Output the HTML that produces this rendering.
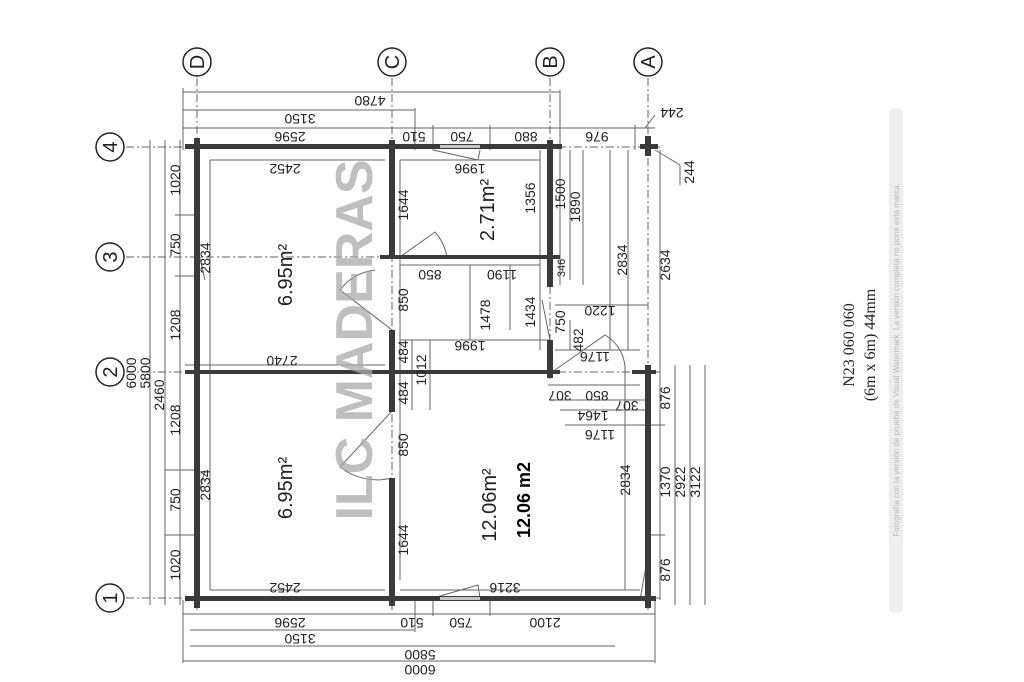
<!DOCTYPE html>
<html><head><meta charset="utf-8"><style>
body{margin:0;background:#fff;}
svg{display:block}
text{font-family:"Liberation Sans",sans-serif;fill:#222}
.d{font-size:14px}
</style></head><body>
<svg width="1024" height="682" viewBox="0 0 1024 682" xmlns="http://www.w3.org/2000/svg">
<g stroke="#666" stroke-width="1" fill="none">
<line x1="197" y1="78" x2="197" y2="610" stroke-dasharray="8 3 2 3"/>
<line x1="392" y1="78" x2="392" y2="610" stroke-dasharray="8 3 2 3"/>
<line x1="550" y1="78" x2="550" y2="380" stroke-dasharray="8 3 2 3"/>
<line x1="648" y1="78" x2="648" y2="610" stroke-dasharray="8 3 2 3"/>
<line x1="126" y1="147" x2="660" y2="147" stroke-dasharray="8 3 2 3"/>
<line x1="126" y1="257" x2="560" y2="257" stroke-dasharray="8 3 2 3"/>
<line x1="126" y1="372" x2="660" y2="372" stroke-dasharray="8 3 2 3"/>
<line x1="126" y1="598" x2="660" y2="598" stroke-dasharray="8 3 2 3"/>
<line x1="183" y1="92" x2="560" y2="92"/>
<line x1="183" y1="110" x2="415" y2="110"/>
<line x1="183" y1="128" x2="655" y2="128"/>
<line x1="183" y1="88" x2="183" y2="150"/>
<line x1="415" y1="108" x2="415" y2="150"/>
<line x1="433" y1="125" x2="433" y2="150"/>
<line x1="490" y1="125" x2="490" y2="150"/>
<line x1="560" y1="90" x2="560" y2="150"/>
<line x1="635" y1="125" x2="635" y2="150"/>
<line x1="183" y1="614" x2="655" y2="614"/>
<line x1="190" y1="630" x2="415" y2="630"/>
<line x1="190" y1="646" x2="615" y2="646"/>
<line x1="183" y1="661" x2="655" y2="661"/>
<line x1="183" y1="600" x2="183" y2="663"/>
<line x1="655" y1="600" x2="655" y2="663"/>
<line x1="415" y1="600" x2="415" y2="632"/>
<line x1="433" y1="600" x2="433" y2="616"/>
<line x1="490" y1="600" x2="490" y2="616"/>
<line x1="150" y1="140" x2="150" y2="605"/>
<line x1="165" y1="140" x2="165" y2="605"/>
<line x1="180" y1="140" x2="180" y2="605"/>
<line x1="175" y1="215" x2="197" y2="215"/>
<line x1="175" y1="276" x2="197" y2="276"/>
<line x1="165" y1="470" x2="197" y2="470"/>
<line x1="165" y1="535" x2="197" y2="535"/>
<line x1="210" y1="160" x2="385" y2="160"/>
<line x1="210" y1="160" x2="210" y2="590"/>
<line x1="210" y1="590" x2="385" y2="590"/>
<line x1="185" y1="365" x2="385" y2="365"/>
<line x1="400" y1="160" x2="540" y2="160"/>
<line x1="400" y1="265" x2="540" y2="265"/>
<line x1="400" y1="160" x2="400" y2="580"/>
<line x1="400" y1="590" x2="640" y2="590"/>
<line x1="412" y1="340" x2="412" y2="410"/>
<line x1="430" y1="340" x2="430" y2="410"/>
<line x1="400" y1="340" x2="550" y2="340"/>
<line x1="470" y1="265" x2="470" y2="340"/>
<line x1="510" y1="265" x2="510" y2="330"/>
<line x1="540" y1="150" x2="540" y2="350"/>
<line x1="560" y1="150" x2="560" y2="285"/>
<line x1="570" y1="150" x2="570" y2="280"/>
<line x1="583" y1="150" x2="583" y2="285"/>
<line x1="610" y1="150" x2="610" y2="350"/>
<line x1="628" y1="150" x2="628" y2="350"/>
<line x1="555" y1="305" x2="648" y2="305"/>
<line x1="555" y1="350" x2="640" y2="350"/>
<line x1="570" y1="320" x2="570" y2="350"/>
<line x1="548" y1="385" x2="640" y2="385"/>
<line x1="552" y1="400" x2="648" y2="400"/>
<line x1="560" y1="410" x2="648" y2="410"/>
<line x1="565" y1="425" x2="665" y2="425"/>
<line x1="625" y1="370" x2="625" y2="590"/>
<line x1="660" y1="365" x2="660" y2="600"/>
<line x1="675" y1="365" x2="675" y2="605"/>
<line x1="690" y1="365" x2="690" y2="605"/>
<line x1="705" y1="365" x2="705" y2="605"/>
<line x1="648" y1="425" x2="665" y2="425"/>
<line x1="648" y1="535" x2="665" y2="535"/>
<line x1="660" y1="150" x2="660" y2="372"/>
<line x1="645" y1="128" x2="655" y2="115"/>
<line x1="655" y1="150" x2="680" y2="165"/>
<line x1="680" y1="165" x2="680" y2="185"/>
<path d="M400 257 L435 232 A50 50 0 0 1 447 257"/>
<path d="M392 330 L340 290 A50 50 0 0 1 375 270"/>
<path d="M392 411 L340 467 A60 60 0 0 0 392 478"/>
<path d="M550 340 L542 300"/>
<path d="M555 370 L605 335 A40 40 0 0 1 625 372"/>
<path d="M433 598 L478 585 L480 598"/>
<path d="M433 150 L478 160 L480 150"/>
<path d="M648 555 L640 600"/>
<path d="M197 245 L205 280"/>
<path d="M197 500 L205 470"/>
</g>
<g fill="#3a3a3a">
<rect x="185" y="144" width="377" height="5"/>
<rect x="194" y="138" width="6" height="470"/>
<rect x="389" y="140" width="6" height="118"/>
<rect x="389" y="330" width="6" height="82"/>
<rect x="389" y="478" width="6" height="128"/>
<rect x="547" y="140" width="6" height="147"/>
<rect x="547" y="340" width="6" height="38"/>
<rect x="380" y="255" width="180" height="4"/>
<rect x="185" y="370" width="375" height="4"/>
<rect x="632" y="370" width="24" height="4"/>
<rect x="645" y="365" width="6" height="243"/>
<rect x="185" y="596" width="471" height="5"/>
<rect x="640" y="144" width="18" height="5"/>
<rect x="645" y="136" width="6" height="20"/>
</g>
<g fill="#fff" opacity=".7">
<rect x="440" y="145" width="40" height="3"/>
<rect x="440" y="597" width="40" height="3"/>
</g>
<g stroke="#222" stroke-width="1.5" fill="#fff">
<circle cx="197" cy="62" r="14"/><circle cx="392" cy="62" r="14"/>
<circle cx="550" cy="62" r="14"/><circle cx="648" cy="62" r="14"/>
<circle cx="110" cy="147" r="14"/><circle cx="110" cy="257" r="14"/>
<circle cx="110" cy="372" r="14"/><circle cx="110" cy="598" r="14"/>
</g>
<g font-size="20" text-anchor="middle">
<text transform="translate(197,62) rotate(-90)" y="7">D</text>
<text transform="translate(392,62) rotate(-90)" y="7">C</text>
<text transform="translate(550,62) rotate(-90)" y="7">B</text>
<text transform="translate(648,62) rotate(-90)" y="7">A</text>
<text transform="translate(110,147) rotate(-90)" y="7">4</text>
<text transform="translate(110,257) rotate(-90)" y="7">3</text>
<text transform="translate(110,372) rotate(-90)" y="7">2</text>
<text transform="translate(110,598) rotate(-90)" y="7">1</text>
</g>
<g class="d" text-anchor="middle">
<text transform="translate(370,96) rotate(180)">4780</text>
<text transform="translate(300,114) rotate(180)">3150</text>
<text transform="translate(290,132) rotate(180)">2596</text>
<text transform="translate(414,132) rotate(180)">510</text>
<text transform="translate(462,132) rotate(180)">750</text>
<text transform="translate(526,132) rotate(180)">880</text>
<text transform="translate(597,132) rotate(180)">976</text>
<text transform="translate(672,108) rotate(180)">244</text>
<text transform="translate(285,164) rotate(180)">2452</text>
<text transform="translate(470,164) rotate(180)">1996</text>
<text transform="translate(430,270) rotate(180)">850</text>
<text transform="translate(502,270) rotate(180)">1190</text>
<text transform="translate(282,356) rotate(180)">2740</text>
<text transform="translate(470,341) rotate(180)">1996</text>
<text transform="translate(600,306) rotate(180)">1220</text>
<text transform="translate(595,352) rotate(180)">1176</text>
<text transform="translate(560,391) rotate(180)">307</text>
<text transform="translate(597,391) rotate(180)">850</text>
<text transform="translate(627,401) rotate(180)">307</text>
<text transform="translate(593,411) rotate(180)">1464</text>
<text transform="translate(600,430) rotate(180)">1176</text>
<text transform="translate(285,583) rotate(180)">2452</text>
<text transform="translate(505,583) rotate(180)">3216</text>
<text transform="translate(290,618) rotate(180)">2596</text>
<text transform="translate(412,618) rotate(180)">510</text>
<text transform="translate(461,618) rotate(180)">750</text>
<text transform="translate(545,618) rotate(180)">2100</text>
<text transform="translate(300,634) rotate(180)">3150</text>
<text transform="translate(420,650) rotate(180)">5800</text>
<text transform="translate(420,665) rotate(180)">6000</text>
</g>
<g class="d" text-anchor="middle">
<text transform="translate(180,180) rotate(-90)">1020</text>
<text transform="translate(180,245) rotate(-90)">750</text>
<text transform="translate(180,325) rotate(-90)">1208</text>
<text transform="translate(180,420) rotate(-90)">1208</text>
<text transform="translate(180,500) rotate(-90)">750</text>
<text transform="translate(180,565) rotate(-90)">1020</text>
<text transform="translate(210,258) rotate(-90)">2834</text>
<text transform="translate(210,485) rotate(-90)">2834</text>
<text transform="translate(136,373) rotate(-90)">6000</text>
<text transform="translate(150,373) rotate(-90)">5800</text>
<text transform="translate(164,395) rotate(-90)">2460</text>
<text transform="translate(408,205) rotate(-90)">1644</text>
<text transform="translate(408,300) rotate(-90)">850</text>
<text transform="translate(408,352) rotate(-90)">484</text>
<text transform="translate(408,393) rotate(-90)">484</text>
<text transform="translate(426,370) rotate(-90)">1012</text>
<text transform="translate(408,445) rotate(-90)">850</text>
<text transform="translate(408,540) rotate(-90)">1644</text>
<text transform="translate(490,315) rotate(-90)">1478</text>
<text transform="translate(535,198) rotate(-90)">1356</text>
<text transform="translate(535,312) rotate(-90)">1434</text>
<text transform="translate(565,194) rotate(-90)">1500</text>
<text transform="translate(580,207) rotate(-90)">1890</text>
<text transform="translate(565,268) rotate(-90)" font-size="11">346</text>
<text transform="translate(565,322) rotate(-90)">750</text>
<text transform="translate(583,340) rotate(-90)">482</text>
<text transform="translate(627,260) rotate(-90)">2834</text>
<text transform="translate(670,265) rotate(-90)">2634</text>
<text transform="translate(694,172) rotate(-90)">244</text>
<text transform="translate(670,398) rotate(-90)">876</text>
<text transform="translate(630,480) rotate(-90)">2834</text>
<text transform="translate(670,482) rotate(-90)">1370</text>
<text transform="translate(685,482) rotate(-90)">2922</text>
<text transform="translate(700,482) rotate(-90)">3122</text>
<text transform="translate(670,570) rotate(-90)">876</text>
</g>
<g font-size="20" text-anchor="middle">
<text transform="translate(292,275) rotate(-90)">6.95m²</text>
<text transform="translate(292,488) rotate(-90)">6.95m²</text>
<text transform="translate(494,210) rotate(-90)">2.71m²</text>
<text transform="translate(496,505) rotate(-90)">12.06m²</text>
</g>
<text transform="translate(530,500) rotate(-90)" font-size="18" font-weight="bold" text-anchor="middle" style="fill:#000">12.06 m2</text>
<text transform="translate(372,340) rotate(-90)" font-size="52" font-weight="bold" text-anchor="middle" style="fill:#aaa;opacity:.75">ILC MADERAS</text>
<text transform="translate(854,345) rotate(-90)" font-size="16" text-anchor="middle" style="font-family:'Liberation Serif',serif">N23 060 060</text>
<text transform="translate(875,345) rotate(-90)" font-size="16" text-anchor="middle" style="font-family:'Liberation Serif',serif">(6m x 6m) 44mm</text>
<rect x="889" y="108" width="14" height="505" rx="6" fill="#eee"/>
<text transform="translate(899,360) rotate(-90)" font-size="8" text-anchor="middle" style="fill:#bbb">Fotografía con la versión de prueba de Visual Watermark. La versión completa no pone esta marca.</text>
</svg>
</body></html>
